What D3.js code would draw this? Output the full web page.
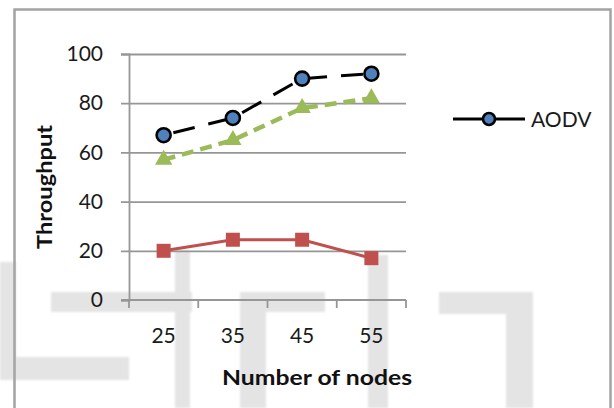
<!DOCTYPE html>
<html>
<head>
<meta charset="utf-8">
<script src="https://cdn.jsdelivr.net/npm/d3@7"></script>
<style>
  html, body { margin: 0; padding: 0; background: #fff; }
  svg { display: block; }
</style>
</head>
<body>
<svg id="chart" width="614" height="408"></svg>
<script>
// Throughput against number of nodes
const categories = ["25", "35", "45", "55"];
const aodv = [67, 74, 90, 92];
const seriesGreen = [57, 65, 78, 82];
const seriesRed = [20, 24.5, 24.5, 17];
const yTicks = [0, 20, 40, 60, 80, 100];
const legendLabels = ["AODV"];

const svg = d3.select("#chart");

const defs = svg.append("defs");
defs.append("filter").attr("id", "soft")
  .append("feGaussianBlur").attr("stdDeviation", 1.2);

// faint background watermark blocks
const wm = svg.append("g").attr("fill", "#e4e4e4").attr("filter", "url(#soft)");
[
  [51, 292, 141, 20], [175, 250, 15, 158],
  [240, 292, 85, 20], [240, 292, 26, 116],
  [368, 255, 20, 153],
  [439, 292, 94, 22], [506, 292, 27, 116],
  [0, 262, 16, 118], [16, 357, 113, 23]
].forEach(r => wm.append("rect").attr("x", r[0]).attr("y", r[1]).attr("width", r[2]).attr("height", r[3]));

// outer frame
svg.append("rect")
  .attr("x", 14.5).attr("y", 9.5).attr("width", 596).attr("height", 420)
  .attr("fill", "none").attr("stroke", "#a3a3a3").attr("stroke-width", 2.5);

const plot = { left: 129, right: 406, top: 54, bottom: 300 };

const x = d3.scaleBand().domain(categories).range([plot.left, plot.right]);
const y = d3.scaleLinear().domain([0, 100]).range([plot.bottom, plot.top]);

const gridColor = "#969696";
const font = "Lato, 'Open Sans', sans-serif";

// y axis with gridlines running across the plot
const yAxis = svg.append("g")
  .attr("transform", `translate(${plot.left},0)`)
  .call(d3.axisLeft(y).tickValues(yTicks).tickSize(8).tickPadding(18));
yAxis.select(".domain").attr("stroke", gridColor).attr("stroke-width", 1.8);
yAxis.selectAll(".tick line").attr("stroke", gridColor).attr("stroke-width", 1.8)
  .attr("x2", -8).attr("x1", d => d === 0 ? 0 : plot.right - plot.left);
yAxis.selectAll(".tick text")
  .attr("font-family", font).attr("font-size", 21).attr("fill", "#1a1a1a");

// x axis: labels centred in bands, tick marks on band edges
const xAxis = svg.append("g")
  .attr("transform", `translate(0,${plot.bottom})`)
  .call(d3.axisBottom(x).tickSize(0).tickPadding(28));
xAxis.select(".domain").remove();
xAxis.selectAll(".tick text")
  .attr("font-family", font).attr("font-size", 21).attr("fill", "#1a1a1a");
xAxis.append("line")
  .attr("x1", plot.left - 8).attr("x2", plot.right).attr("y1", 0).attr("y2", 0)
  .attr("stroke", gridColor).attr("stroke-width", 1.8);
const edges = categories.map(c => x(c)).concat([x(categories[categories.length - 1]) + x.bandwidth()]);
xAxis.selectAll(".edge").data(edges).enter().append("line")
  .attr("x1", d => d).attr("x2", d => d).attr("y1", 0).attr("y2", 8)
  .attr("stroke", gridColor).attr("stroke-width", 1.8);

// axis titles
svg.append("text")
  .attr("x", 317).attr("y", 385).attr("text-anchor", "middle")
  .attr("font-family", font).attr("font-weight", "bold").attr("font-size", 21)
  .attr("textLength", 190).attr("lengthAdjust", "spacingAndGlyphs")
  .attr("fill", "#111").text("Number of nodes");
svg.append("text")
  .attr("transform", "translate(52,187) rotate(-90)").attr("text-anchor", "middle")
  .attr("font-family", font).attr("font-weight", "bold").attr("font-size", 21)
  .attr("textLength", 124).attr("lengthAdjust", "spacingAndGlyphs")
  .attr("fill", "#111").text("Throughput");

const cx = c => x(c) + x.bandwidth() / 2;
const line = d3.line().x((d, i) => cx(categories[i])).y(d => y(d));

// red series
svg.append("path").datum(seriesRed)
  .attr("d", line).attr("fill", "none")
  .attr("stroke", "#C0504D").attr("stroke-width", 3);
svg.selectAll(".sq").data(seriesRed).enter().append("rect")
  .attr("x", (d, i) => cx(categories[i]) - 7).attr("y", d => y(d) - 7)
  .attr("width", 14).attr("height", 14).attr("fill", "#C0504D");

// green series
svg.append("path").datum(seriesGreen)
  .attr("d", line).attr("fill", "none")
  .attr("stroke", "#9BBB59").attr("stroke-width", 4.5)
  .attr("stroke-dasharray", "12,7");
const tri = d3.symbol().type(d3.symbolTriangle).size(130);
svg.selectAll(".tri").data(seriesGreen).enter().append("path")
  .attr("d", tri)
  .attr("transform", (d, i) => `translate(${cx(categories[i])},${y(d)})`)
  .attr("fill", "#9BBB59");

// AODV series
svg.append("path").datum(aodv)
  .attr("d", line).attr("fill", "none")
  .attr("stroke", "#000").attr("stroke-width", 3)
  .attr("stroke-dasharray", "22,14").attr("stroke-dashoffset", -10);
svg.selectAll(".dot").data(aodv).enter().append("circle")
  .attr("cx", (d, i) => cx(categories[i])).attr("cy", d => y(d))
  .attr("r", 7).attr("fill", "#4F81BD").attr("stroke", "#000").attr("stroke-width", 2.6);

// legend
const lg = svg.append("g").attr("transform", "translate(453,119)");
lg.append("line").attr("x1", 0).attr("x2", 72).attr("y1", 0).attr("y2", 0)
  .attr("stroke", "#000").attr("stroke-width", 3);
lg.append("circle").attr("cx", 36).attr("cy", 0).attr("r", 6)
  .attr("fill", "#4F81BD").attr("stroke", "#000").attr("stroke-width", 2.6);
lg.append("text").attr("x", 78).attr("y", 8)
  .attr("font-family", font).attr("font-size", 21).attr("fill", "#1a1a1a")
  .text(legendLabels[0]);
</script>
</body>
</html>
